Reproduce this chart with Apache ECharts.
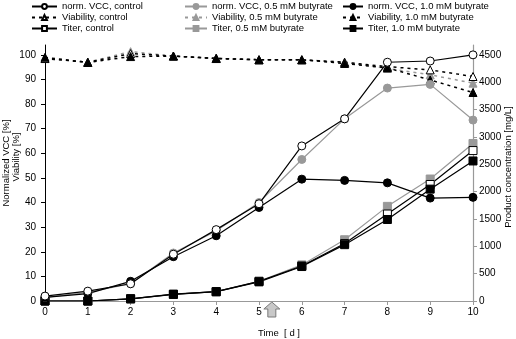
<!DOCTYPE html>
<html>
<head>
<meta charset="utf-8">
<script src="https://cdn.jsdelivr.net/npm/echarts@6/dist/echarts.min.js"></script>
<style>
  html, body { margin: 0; padding: 0; background: #fff; }
  #chart { width: 516px; height: 339px; }
</style>
</head>
<body>
<div id="chart"></div>
<script>
// 培养天数
const DAYS = [0, 1, 2, 3, 4, 5, 6, 7, 8, 9, 10];

// 归一化 VCC [%]
const VCC_CONTROL = [2, 4, 7, 19, 29, 39.5, 63, 74, 97, 97.5, 100];
const VCC_05 = [1.5, 3.5, 7, 19.5, 28.5, 40, 57.5, 74, 86.5, 88, 73.5];
const VCC_10 = [1.5, 3, 8, 18, 26.5, 38, 49.5, 49, 48, 41.8, 42.1];

// 活率 [%]
const VIA_CONTROL = [98.5, 97, 100.5, 99.5, 98.5, 98, 98, 97, 95.2, 93.9, 91.2];
const VIA_05 = [98.5, 97, 101.3, 99.5, 98.5, 98, 98, 97, 94.5, 91.9, 88.5];
const VIA_10 = [99, 96.9, 99.3, 99.5, 98.6, 98, 98, 96.5, 94.7, 89.8, 84.7];

// 产物浓度 [mg/L]
const TITER_CONTROL = [0, 0, 40, 120, 170, 360, 640, 1050, 1590, 2130, 2750];
const TITER_05 = [0, 0, 40, 120, 170, 360, 660, 1120, 1730, 2230, 2880];
const TITER_10 = [0, 0, 40, 125, 170, 350, 630, 1030, 1490, 2045, 2560];

// 刻度
const LEFT_TICKS = [0, 10, 20, 30, 40, 50, 60, 70, 80, 90, 100];
const RIGHT_TICKS = [0, 500, 1000, 1500, 2000, 2500, 3000, 3500, 4000, 4500];

// 加丁酸的时间点（箭头）
const FEED_DAY = 5.3;

const FONT = '"Liberation Sans", Arial, sans-serif';
const GRAY = '#999999';

const chart = echarts.init(document.getElementById('chart'));

const pairs = vals => DAYS.map((d, i) => [d, vals[i]]);

// 生成一条折线系列
function line(name, vals, opt) {
  return {
    name,
    type: 'line',
    data: pairs(vals),
    yAxisIndex: opt.right ? 1 : 0,
    symbol: opt.symbol,
    symbolSize: opt.size || 8,
    lineStyle: { color: opt.color, width: opt.dash ? 1.5 : 1.2, type: opt.dash ? [3, 4] : 'solid' },
    itemStyle: { color: opt.fill, borderColor: opt.color, borderWidth: 1 },
    z: opt.z || 2,
    silent: true
  };
}

const legendBase = {
  orient: 'vertical',
  top: 1,
  padding: 0,
  itemGap: 0,
  itemHeight: 6,
  textStyle: { fontSize: 9.5, lineHeight: 11, color: '#000', fontFamily: FONT }
};

const option = {
  animation: false,
  backgroundColor: '#fff',
  textStyle: { fontFamily: FONT },
  legend: [
    Object.assign({}, legendBase, {
      left: 31, itemWidth: 25,
      data: ['norm. VCC, control', 'Viability, control', 'Titer, control']
    }),
    Object.assign({}, legendBase, {
      left: 184, itemWidth: 22,
      data: ['norm. VCC, 0.5 mM butyrate', 'Viability, 0.5 mM butyrate', 'Titer, 0.5 mM butyrate']
    }),
    Object.assign({}, legendBase, {
      left: 342, itemWidth: 20,
      data: ['norm. VCC, 1.0 mM butyrate', 'Viability, 1.0 mM butyrate', 'Titer, 1.0 mM butyrate']
    })
  ],
  grid: { left: 45, right: 43, top: 45, bottom: 38 },
  xAxis: {
    type: 'value',
    min: 0, max: 10, interval: 1,
    axisLine: { lineStyle: { color: GRAY, width: 1.2 } },
    axisTick: { length: 4, lineStyle: { color: GRAY } },
    axisLabel: { fontSize: 10, color: '#000', margin: 6 },
    splitLine: { show: false }
  },
  yAxis: [
    {
      type: 'value',
      min: 0, max: 104,
      axisLine: { show: true, lineStyle: { color: '#000', width: 1 } },
      axisTick: { show: true, length: 4, customValues: LEFT_TICKS, lineStyle: { color: '#000' } },
      axisLabel: { fontSize: 10, color: '#000', margin: 9, customValues: LEFT_TICKS },
      splitLine: { show: false }
    },
    {
      type: 'value',
      position: 'right',
      min: 0, max: 4680,
      axisLine: { show: true, lineStyle: { color: GRAY, width: 1.2 } },
      axisTick: { show: true, length: 4, customValues: RIGHT_TICKS, lineStyle: { color: GRAY } },
      axisLabel: { fontSize: 10, color: '#000', margin: 6, customValues: RIGHT_TICKS, formatter: v => String(v) },
      splitLine: { show: false }
    }
  ],
  series: [
    line('Titer, 0.5 mM butyrate', TITER_05, { right: true, symbol: 'rect', color: GRAY, fill: GRAY }),
    line('Titer, control', TITER_CONTROL, { right: true, symbol: 'rect', color: '#000', fill: '#fff' }),
    line('Titer, 1.0 mM butyrate', TITER_10, { right: true, symbol: 'rect', color: '#000', fill: '#000' }),
    line('Viability, 0.5 mM butyrate', VIA_05, { dash: true, symbol: 'triangle', color: GRAY, fill: GRAY }),
    line('Viability, control', VIA_CONTROL, { dash: true, symbol: 'triangle', color: '#000', fill: '#fff' }),
    line('Viability, 1.0 mM butyrate', VIA_10, { dash: true, symbol: 'triangle', color: '#000', fill: '#000' }),
    line('norm. VCC, 0.5 mM butyrate', VCC_05, { symbol: 'circle', color: GRAY, fill: GRAY }),
    line('norm. VCC, 1.0 mM butyrate', VCC_10, { symbol: 'circle', color: '#000', fill: '#000' }),
    line('norm. VCC, control', VCC_CONTROL, { symbol: 'circle', color: '#000', fill: '#fff', z: 3 })
  ]
};

chart.setOption(option);

// 坐标轴标题与加料箭头
const ax = chart.convertToPixel({ xAxisIndex: 0 }, FEED_DAY);
const ay = chart.convertToPixel({ yAxisIndex: 0 }, 0);
chart.setOption({
  graphic: [
    {
      type: 'text', x: 6, y: 163, rotation: Math.PI / 2,
      style: { text: 'Normalized VCC [%]', fontSize: 9.5, fontFamily: FONT, fill: '#000', align: 'center', verticalAlign: 'middle' }
    },
    {
      type: 'text', x: 16, y: 157, rotation: Math.PI / 2,
      style: { text: 'Viability [%]', fontSize: 9.5, fontFamily: FONT, fill: '#000', align: 'center', verticalAlign: 'middle' }
    },
    {
      type: 'text', x: 508, y: 167, rotation: Math.PI / 2,
      style: { text: 'Product concentration [mg/L]', fontSize: 9.5, fontFamily: FONT, fill: '#000', align: 'center', verticalAlign: 'middle' }
    },
    {
      type: 'text', x: 279, y: 333,
      style: { text: 'Time  [ d ]', fontSize: 9.5, fontFamily: FONT, fill: '#000', align: 'center', verticalAlign: 'middle' }
    },
    {
      type: 'polygon',
      shape: {
        points: [
          [ax, ay + 1], [ax + 8, ay + 8], [ax + 4, ay + 8], [ax + 4, ay + 16],
          [ax - 4, ay + 16], [ax - 4, ay + 8], [ax - 8, ay + 8]
        ]
      },
      style: { fill: '#c8c8c8', stroke: '#7a7a7a', lineWidth: 1 }
    }
  ]
});
</script>
</body>
</html>
